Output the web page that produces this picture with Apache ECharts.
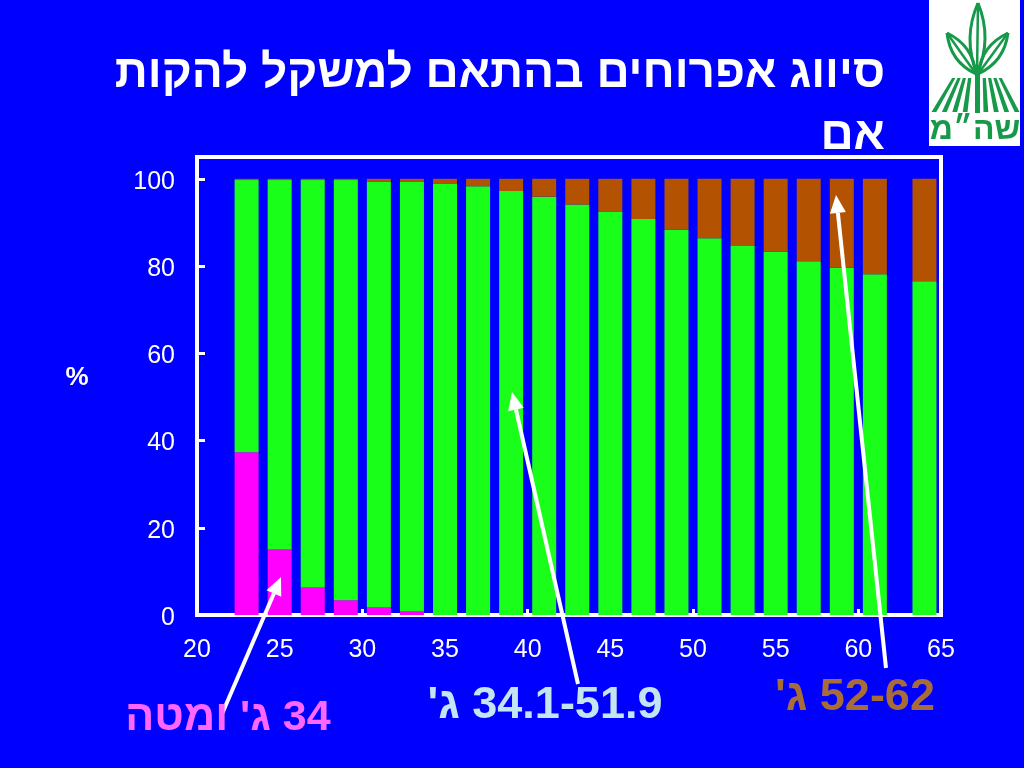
<!DOCTYPE html>
<html><head><meta charset="utf-8">
<script src="https://cdn.jsdelivr.net/npm/echarts@6/dist/echarts.min.js"></script>
<style>html,body{margin:0;padding:0;background:#0000FF}#c{width:1024px;height:768px}</style>
</head><body><div id="c"></div><script>
// x positions of bars
const weights = [23,25,27,29,31,33,35,37,39,41,43,45,47,49,51,53,55,57,59,61,64];
// % chicks <= 34 g
const lowShare  = [37.3,15.0,6.3,3.4,1.7,0.8,0,0,0,0,0,0,0,0,0,0,0,0,0,0,0];
// % chicks 34.1-51.9 g
const midShare  = [62.4,84.7,93.4,96.3,97.6,98.6,98.9,98.3,97.2,95.9,94.1,92.5,90.8,88.3,86.4,84.6,83.3,81.1,79.6,78.1,76.5];
// % chicks 52-62 g
const highShare = [0.3,0.3,0.3,0.3,0.7,0.6,1.1,1.7,2.8,4.1,5.9,7.5,9.2,11.7,13.6,15.4,16.7,18.9,20.4,21.9,23.5];
const xTickLabels = [20,25,30,35,40,45,50,55,60,65];
const xTickMarks = [30,40,50,60];
const yTickLabels = [0,20,40,60,80,100];
const titleLines = ['סיווג אפרוחים בהתאם למשקל להקות','אם'];
const yName = '%';
const labelLow = '34 ג\' ומטה';
const labelMid = '34.1-51.9 ג\'';
const labelHigh = '52-62 ג\'';
const logoText = 'שה״מ';

const RLE = '\u202B', PDF = '\u202C';
const FONT = '"Liberation Sans", Arial, "DejaVu Sans", sans-serif';
const LG = '#17994a';
// value first, x second, so that the stack runs along y
const pair = arr => weights.map((w,i)=>[arr[i], w]);

function arrow(x1,y1,x2,y2){
  const ang = Math.atan2(y2-y1, x2-x1), L=18, W=8;
  const bx = x2 - L*Math.cos(ang), by = y2 - L*Math.sin(ang);
  const px = -Math.sin(ang)*W, py = Math.cos(ang)*W;
  return [
    {type:'line', shape:{x1:x1,y1:y1,x2:bx,y2:by}, style:{stroke:'#fff', lineWidth:4}, z:100},
    {type:'polygon', shape:{points:[[x2,y2],[bx+px,by+py],[bx-px,by-py]]}, style:{fill:'#fff'}, z:100}
  ];
}
function leaf(bx,by,tx,ty,w){
  const mx=(bx+tx)/2, my=(by+ty)/2, dx=tx-bx, dy=ty-by, len=Math.hypot(dx,dy);
  const nx=-dy/len*w, ny=dx/len*w;
  return [
    {type:'bezierCurve', shape:{x1:bx,y1:by,x2:tx,y2:ty,cpx1:mx+nx,cpy1:my+ny}, style:{fill:null, stroke:LG, lineWidth:3}, z:100},
    {type:'bezierCurve', shape:{x1:bx,y1:by,x2:tx,y2:ty,cpx1:mx-nx,cpy1:my-ny}, style:{fill:null, stroke:LG, lineWidth:3}, z:100},
    {type:'line', shape:{x1:bx,y1:by,x2:tx,y2:ty}, style:{stroke:LG, lineWidth:2.5}, z:100}
  ];
}
const logo = [{type:'rect', shape:{x:929,y:0,width:91,height:146}, style:{fill:'#fff'}, z:90}];
logo.push(...leaf(977,74,978,3,15));
logo.push(...leaf(976,74,947,33,14));
logo.push(...leaf(978,74,1008,33,14));
logo.push({type:'rect', shape:{x:975,y:72,width:5,height:41}, style:{fill:LG}, z:100});
[-4,-3,-2,-1,1,2,3,4].forEach(k=>{
  const s = Math.sign(k), a = Math.abs(k);
  const topX = 977 + s*(2 + a*5.3), botX = 975.5 + s*(a*10.4);
  logo.push({type:'polygon', shape:{points:[[topX-1.6,78],[topX+1.6,78],[botX+2.4,112],[botX-2.4,112]]}, style:{fill:LG}, z:100});
});
logo.push({type:'text', style:{text:logoText, x:975, y:130, fill:LG, font:'bold 32px '+FONT, align:'center', verticalAlign:'middle'}, z:100});

const enc = {x:1, y:0};
const chart = echarts.init(document.getElementById('c'), null, {renderer:'canvas'});
chart.setOption({
  backgroundColor:'#0000FF',
  animation:false,
  grid:{left:197, right:83, top:157, bottom:153, show:true, borderColor:'#ffffff', borderWidth:4, backgroundColor:'transparent'},
  xAxis:{type:'value', min:20, max:65, interval:5,
    axisLine:{show:false}, splitLine:{show:false},
    axisTick:{show:true, inside:true, length:6, customValues:xTickMarks, lineStyle:{color:'#fff', width:3}},
    axisLabel:{customValues:xTickLabels, color:'#fff', fontSize:25, fontFamily:FONT, margin:23}},
  yAxis:{type:'value', min:0, max:105, interval:20,
    axisLine:{show:false}, splitLine:{show:false},
    axisTick:{show:true, inside:true, length:8, customValues:yTickLabels, lineStyle:{color:'#fff', width:3}},
    axisLabel:{customValues:yTickLabels, color:'#fff', fontSize:25, fontFamily:FONT, margin:22, verticalAlign:'top', lineHeight:6}},
  series:[
    {type:'bar', stack:'s', barWidth:24, encode:enc, data:pair(lowShare), itemStyle:{color:'#FF00FF'}},
    {type:'bar', stack:'s', barWidth:24, encode:enc, data:pair(midShare), itemStyle:{color:'#19FF19'}},
    {type:'bar', stack:'s', barWidth:24, encode:enc, data:pair(highShare), itemStyle:{color:'#B35200'}}
  ],
  graphic:[
    {type:'text', style:{text:titleLines[0], x:885, y:74, fill:'#fff', font:'bold 46px '+FONT, align:'right', verticalAlign:'middle'}, z:100},
    {type:'text', style:{text:titleLines[1], x:885, y:136, fill:'#fff', font:'bold 46px '+FONT, align:'right', verticalAlign:'middle'}, z:100},
    {type:'text', style:{text:yName, x:77, y:378, fill:'#fff', font:'bold 26px '+FONT, align:'center', verticalAlign:'middle'}, z:100},
    ...arrow(222,714,281,577),
    ...arrow(578,684,512,392),
    ...arrow(886,668,836,195),
    {type:'text', style:{text:RLE+labelLow+PDF, x:228, y:718, fill:'#FF66FF', font:'bold 43px '+FONT, align:'center', verticalAlign:'middle'}, z:100},
    {type:'text', style:{text:RLE+labelMid+PDF, x:545, y:706, fill:'#C4E4F4', font:'bold 45px '+FONT, align:'center', verticalAlign:'middle'}, z:100},
    {type:'text', style:{text:RLE+labelHigh+PDF, x:855, y:698, fill:'#A86C38', font:'bold 45px '+FONT, align:'center', verticalAlign:'middle'}, z:100},
    ...logo
  ]
});
</script></body></html>
